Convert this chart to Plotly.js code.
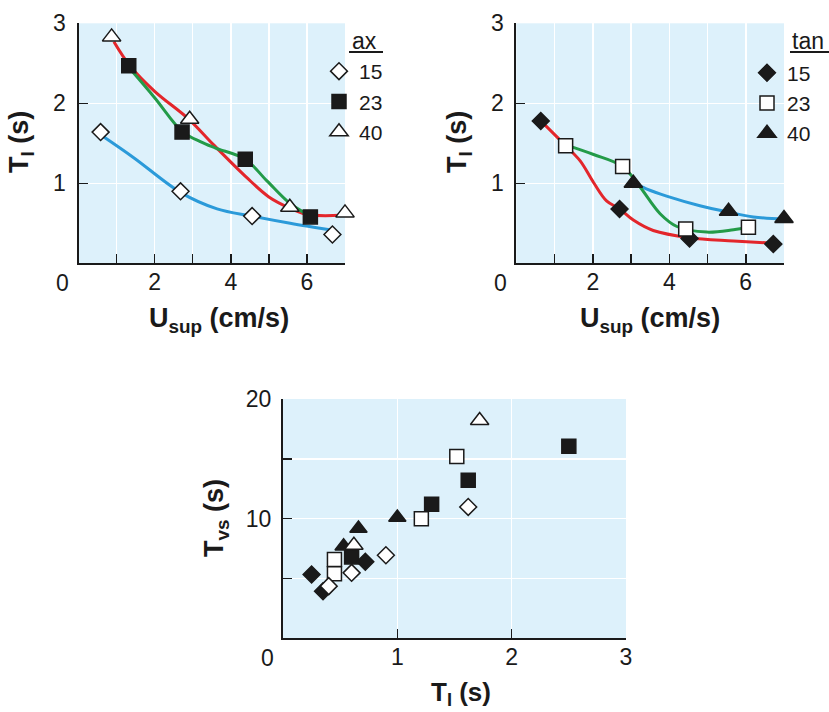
<!DOCTYPE html>
<html>
<head>
<meta charset="utf-8">
<script src="https://cdn.plot.ly/plotly-3.0.1.min.js"></script>
<style>html,body{margin:0;padding:0;background:#fff;}#chart{width:829px;height:712px;}</style>
</head>
<body>
<div id="chart"></div>
<script>
// ---------- Data: panel A (ax) : T_I vs U_sup ----------
const axLabels = ['15', '23', '40'];
const ax15U = [0.58, 2.68, 4.56, 6.67];
const ax15T = [1.64, 0.90, 0.59, 0.36];
const ax23U = [1.32, 2.72, 4.38, 6.09];
const ax23T = [2.47, 1.64, 1.30, 0.58];
const ax40U = [0.87, 2.92, 5.55, 7.0];
const ax40T = [2.83, 1.80, 0.70, 0.63];
// fitted curves
const axFit15U = [0.6, 1.45, 2.7, 3.64, 4.55, 5.56, 6.7];
const axFit15T = [1.6, 1.32, 0.88, 0.68, 0.59, 0.50, 0.41];
const axFit23U = [1.32, 2.0, 2.72, 3.2, 3.6, 4.38, 4.95, 5.55, 6.05];
const axFit23T = [2.45, 2.07, 1.65, 1.52, 1.44, 1.30, 1.03, 0.75, 0.60];
const axFit40U = [0.93, 1.35, 2.0, 2.9, 3.55, 4.4, 5.0, 5.55, 6.0, 6.9];
const axFit40T = [2.77, 2.47, 2.15, 1.80, 1.48, 1.08, 0.83, 0.69, 0.61, 0.60];

// ---------- Data: panel B (tan) : T_I vs U_sup ----------
const tanLabels = ['15', '23', '40'];
const tan15U = [0.64, 2.70, 4.53, 6.72];
const tan15T = [1.78, 0.68, 0.31, 0.24];
const tan23U = [1.29, 2.78, 4.43, 6.07];
const tan23T = [1.47, 1.21, 0.43, 0.45];
const tan40U = [3.06, 5.55, 7.0];
const tan40T = [1.00, 0.65, 0.56];
const tanFit15U = [0.64, 1.29, 1.67, 2.02, 2.36, 2.7, 3.06, 3.58, 4.53, 5.68, 6.72];
const tanFit15T = [1.78, 1.47, 1.28, 1.01, 0.78, 0.68, 0.54, 0.41, 0.32, 0.28, 0.25];
const tanFit23U = [1.29, 2.02, 2.78, 3.24, 3.76, 4.2, 4.98, 5.68, 6.07];
const tanFit23T = [1.48, 1.36, 1.21, 0.95, 0.62, 0.46, 0.39, 0.42, 0.45];
const tanFit40U = [3.0, 3.4, 3.93, 4.8, 5.55, 6.2, 7.0];
const tanFit40T = [1.02, 0.93, 0.84, 0.72, 0.64, 0.58, 0.55];

// ---------- Data: panel C : T_vs vs T_I ----------
const cAx15TI = [1.62, 0.90, 0.60, 0.40];
const cAx15Tvs = [10.98, 6.94, 5.47, 4.36];
const cAx23TI = [2.50, 1.62, 1.30, 0.60];
const cAx23Tvs = [16.06, 13.2, 11.2, 6.8];
const cAx40TI = [1.72, 0.62];
const cAx40Tvs = [18.2, 7.78];
const cTan15TI = [0.25, 0.35, 0.72];
const cTan15Tvs = [5.33, 3.94, 6.4];
const cTan23TI = [1.52, 1.21, 0.45, 0.45];
const cTan23Tvs = [15.2, 10.0, 6.58, 5.4];
const cTan40TI = [1.00, 0.66, 0.53];
const cTan40Tvs = [10.1, 9.17, 7.7];

// ---------- Tick labels ----------
const xTopTickVals = [2, 4, 6];
const xTopTickText = ['2', '4', '6'];
const yTopTickVals = [1, 2, 3];
const yTopTickText = ['1', '2', '3'];
const xBotTickVals = [1, 2, 3];
const xBotTickText = ['1', '2', '3'];
const yBotTickVals = [10, 20];
const yBotTickText = ['10', '20'];

// ---------- Styles ----------
const FONT = 'Liberation Sans, Arial, Helvetica, sans-serif';
const INK = '#1a1a1a';
const RED = '#e3262b', GREEN = '#239b48', BLUE = '#2b9ad9';
const W = 829, H = 712;

function curve(x, y, color, xa, ya) {
  return {x: x, y: y, xaxis: xa, yaxis: ya, mode: 'lines', showlegend: false, hoverinfo: 'skip',
    line: {color: color, width: 3, shape: 'spline', smoothing: 1}};
}
function pts(x, y, sym, filled, size, xa, ya, name, legend, show) {
  return {x: x, y: y, xaxis: xa, yaxis: ya, mode: 'markers', name: name, legend: legend,
    showlegend: show, cliponaxis: false,
    marker: {symbol: sym, size: size, color: filled ? INK : '#ffffff', line: {color: INK, width: 1.5}}};
}
const SZ = {diamond: 13, square: 14, 'triangle-up': 16};

const traces = [
  curve(axFit15U, axFit15T, BLUE, 'x', 'y'),
  curve(axFit40U, axFit40T, RED, 'x', 'y'),
  curve(axFit23U, axFit23T, GREEN, 'x', 'y'),
  pts(ax15U, ax15T, 'diamond', false, SZ.diamond, 'x', 'y', axLabels[0], 'legend', true),
  pts(ax23U, ax23T, 'square', true, SZ.square, 'x', 'y', axLabels[1], 'legend', true),
  pts(ax40U, ax40T, 'triangle-up', false, SZ['triangle-up'], 'x', 'y', axLabels[2], 'legend', true),

  curve(tanFit15U, tanFit15T, RED, 'x2', 'y2'),
  curve(tanFit40U, tanFit40T, BLUE, 'x2', 'y2'),
  curve(tanFit23U, tanFit23T, GREEN, 'x2', 'y2'),
  pts(tan15U, tan15T, 'diamond', true, SZ.diamond, 'x2', 'y2', tanLabels[0], 'legend2', true),
  pts(tan23U, tan23T, 'square', false, SZ.square, 'x2', 'y2', tanLabels[1], 'legend2', true),
  pts(tan40U, tan40T, 'triangle-up', true, SZ['triangle-up'], 'x2', 'y2', tanLabels[2], 'legend2', true),

  pts(cAx23TI, cAx23Tvs, 'square', true, 14, 'x3', 'y3', 'ax 23', 'legend', false),
  pts(cTan15TI, cTan15Tvs, 'diamond', true, 13, 'x3', 'y3', 'tan 15', 'legend', false),
  pts(cTan40TI, cTan40Tvs, 'triangle-up', true, 15, 'x3', 'y3', 'tan 40', 'legend', false),
  pts(cTan23TI, cTan23Tvs, 'square', false, 14, 'x3', 'y3', 'tan 23', 'legend', false),
  pts(cAx15TI, cAx15Tvs, 'diamond', false, 13, 'x3', 'y3', 'ax 15', 'legend', false),
  pts(cAx40TI, cAx40Tvs, 'triangle-up', false, 16, 'x3', 'y3', 'ax 40', 'legend', false)
];

const TICKFONT = {family: FONT, size: 23, color: INK};

function axisBase(extra, minorDtick) {
  return Object.assign({
    showline: true, linecolor: INK, linewidth: 2, mirror: false,
    ticks: 'inside', ticklen: 9, tickwidth: 1.5, tickcolor: INK,
    showgrid: true, gridcolor: '#ffffff', gridwidth: 1.5, zeroline: false,
    tickmode: 'array', tickfont: TICKFONT,
    minor: {tick0: 0, dtick: minorDtick, ticks: 'inside', ticklen: 9, tickwidth: 1.5, tickcolor: INK,
      showgrid: true, gridcolor: '#ffffff', gridwidth: 1.5},
    fixedrange: true, automargin: false
  }, extra);
}

const px = v => v / W;
const py = v => 1 - v / H;

const titleFont = {family: FONT, size: 27, color: INK};

const annotations = [
  // origin labels
  {xref: 'x', yref: 'y', x: 0, y: 0, text: '0', showarrow: false, xshift: -16, yshift: -20, font: TICKFONT},
  {xref: 'x2', yref: 'y2', x: 0, y: 0, text: '0', showarrow: false, xshift: -16, yshift: -20, font: TICKFONT},
  {xref: 'x3', yref: 'y3', x: 0, y: 0, text: '0', showarrow: false, xshift: -16, yshift: -20, font: TICKFONT},
  // axis titles
  {xref: 'paper', yref: 'paper', x: px(219), y: py(320), text: '<b>U<sub>sup</sub> (cm/s)</b>', showarrow: false, font: titleFont, xanchor: 'center', yanchor: 'middle'},
  {xref: 'paper', yref: 'paper', x: px(21), y: py(142), text: '<b>T<sub>I</sub> (s)</b>', textangle: -90, showarrow: false, font: titleFont, xanchor: 'center', yanchor: 'middle'},
  {xref: 'paper', yref: 'paper', x: px(650), y: py(320), text: '<b>U<sub>sup</sub> (cm/s)</b>', showarrow: false, font: titleFont, xanchor: 'center', yanchor: 'middle'},
  {xref: 'paper', yref: 'paper', x: px(459), y: py(142), text: '<b>T<sub>I</sub> (s)</b>', textangle: -90, showarrow: false, font: titleFont, xanchor: 'center', yanchor: 'middle'},
  {xref: 'paper', yref: 'paper', x: px(461), y: py(693), text: '<b>T<sub>I</sub> (s)</b>', showarrow: false, font: {family: FONT, size: 26, color: INK}, xanchor: 'center', yanchor: 'middle'},
  {xref: 'paper', yref: 'paper', x: px(216), y: py(518), text: '<b>T<sub>vs</sub> (s)</b>', textangle: -90, showarrow: false, font: titleFont, xanchor: 'center', yanchor: 'middle'},
  // legend headings
  {xref: 'paper', yref: 'paper', x: px(350), y: py(41), text: 'ax', showarrow: false, font: {family: FONT, size: 23, color: INK}, xanchor: 'left', yanchor: 'middle'},
  {xref: 'paper', yref: 'paper', x: px(790), y: py(41), text: 'tan', showarrow: false, font: {family: FONT, size: 23, color: INK}, xanchor: 'left', yanchor: 'middle'},
];

const shapes = [
  {type: 'line', xref: 'paper', yref: 'paper', x0: px(349), x1: px(383), y0: py(52), y1: py(52), line: {color: INK, width: 2}},
  {type: 'line', xref: 'paper', yref: 'paper', x0: px(790), x1: px(831), y0: py(52), y1: py(52), line: {color: INK, width: 2}}
];

const legendBase = {bgcolor: 'rgba(0,0,0,0)', borderwidth: 0, font: {family: FONT, size: 21, color: INK},
  xanchor: 'left', yanchor: 'top', traceorder: 'normal', itemclick: false, itemdoubleclick: false};

const layout = {
  width: W, height: H,
  margin: {l: 0, r: 0, t: 0, b: 0},
  paper_bgcolor: '#ffffff', plot_bgcolor: '#ddf1fb',
  font: {family: FONT, color: INK},
  xaxis: axisBase({domain: [px(78.5), px(345)], range: [0, 7], tickvals: xTopTickVals, ticktext: xTopTickText, anchor: 'y', ticklabelstandoff: -3}, 1),
  yaxis: axisBase({domain: [py(263.3), py(23.3)], range: [0, 3], tickvals: yTopTickVals, ticktext: yTopTickText, anchor: 'x', ticklabelstandoff: 6}, 1),
  xaxis2: axisBase({domain: [px(516.3), px(784)], range: [0, 7], tickvals: xTopTickVals, ticktext: xTopTickText, anchor: 'y2', ticklabelstandoff: -3}, 1),
  yaxis2: axisBase({domain: [py(263.3), py(23.3)], range: [0, 3], tickvals: yTopTickVals, ticktext: yTopTickText, anchor: 'x2', ticklabelstandoff: 6}, 1),
  xaxis3: axisBase({domain: [px(283), px(626)], range: [0, 3], tickvals: xBotTickVals, ticktext: xBotTickText, anchor: 'y3', ticklabelstandoff: -3}, 1),
  yaxis3: axisBase({domain: [py(638.3), py(399)], range: [0, 20], tickvals: yBotTickVals, ticktext: yBotTickText, anchor: 'x3', ticklabelstandoff: 5}, 5),
  legend: Object.assign({}, legendBase, {x: px(319), y: py(51)}),
  legend2: Object.assign({}, legendBase, {x: px(747), y: py(52.5)}),
  showlegend: true,
  annotations: annotations,
  shapes: shapes
};

Plotly.newPlot('chart', traces, layout, {staticPlot: true, displayModeBar: false});
</script>
</body>
</html>
